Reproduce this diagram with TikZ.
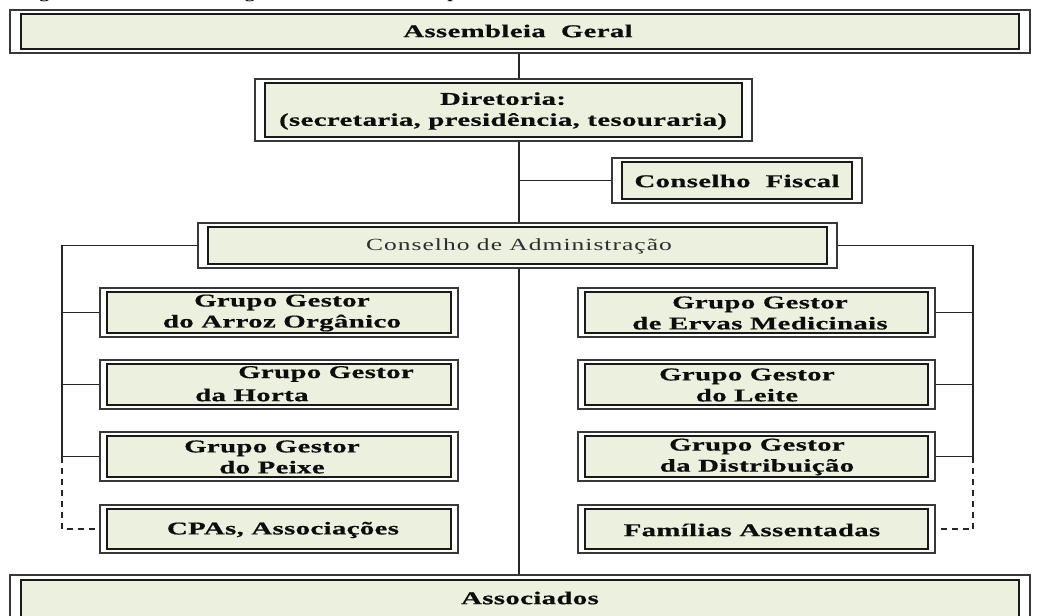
\documentclass[tikz,border=0pt]{standalone}
\usepackage{fontspec}
\setmainfont{Liberation Serif}
\newfontfamily\boxfont[FakeStretch=1.6,LetterSpace=2,FakeBold=0.6]{Liberation Serif}
\newfontfamily\admfont[FakeStretch=1.5,LetterSpace=6]{Liberation Serif}
\newfontfamily\titlefont[FakeStretch=1.35,LetterSpace=4]{Liberation Serif}

\definecolor{boxfill}{RGB}{236,241,223}

\tikzset{
  outerframe/.style={draw=black!78, line width=1.8pt, fill=white, inner sep=0pt, outer sep=0.9pt},
  innerframe/.style={draw=black!90, line width=2.6pt, fill=boxfill},
  lbl/.style={font=\boxfont\bfseries\fontsize{18}{21}\selectfont, align=center, inner sep=0pt, text=black!95},
  admlbl/.style={font=\admfont\fontsize{17}{20}\selectfont, inner sep=0pt, text=black!82},
  conn/.style={draw=black!85, line width=1.6pt},
  dashconn/.style={conn, dash pattern=on 6pt off 5pt},
}

% double-framed box: name, x1, y1, x2, y2, horizontal inset, vertical inset
\newcommand\orgbox[7]{%
  \node[outerframe, minimum width={(#4-#2)*1pt}, minimum height={(#5-#3)*1pt}]
    (#1) at ({(#2+#4)/2},{(#3+#5)/2}) {};
  \draw[innerframe] ([shift={(#6,#7)}]#1.north west) rectangle ([shift={(-#6,-#7)}]#1.south east);
}

\begin{document}
\begin{tikzpicture}[x=1pt,y=-1pt]
\useasboundingbox (0,0) rectangle (1037,616);
\fill[white] (0,0) rectangle (1037,616);
\clip (0,0) rectangle (1037,616);

% caption line, mostly cut off by the top edge
\node[font=\titlefont\bfseries\fontsize{15}{18}\selectfont, anchor=base west, inner sep=0pt] (caption) at (20,-2) {Figura 1 -- Estrutura Organizacional da Cootap};

% bus coordinates
\coordinate (sp) at (519,0);
\coordinate (lb) at (62,0);
\coordinate (rb) at (973,0);

% boxes
\orgbox{ag}{10}{10}{1030}{53}{12}{5}
\orgbox{dir}{255}{79}{752}{141}{11}{5}
\orgbox{cf}{612}{158}{862}{203}{11}{5}
\orgbox{adm}{198}{223}{837}{268}{11}{5}

\orgbox{ar}{100}{288}{458}{337}{8}{5}
\orgbox{ho}{100}{360}{458}{409}{8}{5}
\orgbox{pe}{100}{432}{458}{481}{8}{5}
\orgbox{cp}{100}{505}{458}{553}{8}{5}

\orgbox{er}{578}{288}{935}{337}{8}{5}
\orgbox{le}{578}{360}{935}{409}{8}{5}
\orgbox{di}{578}{432}{935}{481}{8}{5}
\orgbox{fa}{578}{505}{935}{553}{8}{5}

\orgbox{as}{10}{575}{1030}{622}{12}{6}

% texts
\node[lbl] (ag-t) at (518,31) {Assembleia\ \ Geral};
\node[lbl] (dir-t) at (503,111) {Diretoria:\\(secretaria, presidência, tesouraria)};
\node[lbl] (cf-t) at (737,181) {Conselho\ \ Fiscal};
\node[admlbl] (adm-t) at (519,246) {Conselho de Administração};

\node[lbl] (ar-t) at (282,313) {Grupo Gestor\\do Arroz Orgânico};
\node[lbl] (ho-t1) at (326,374) {Grupo Gestor};
\node[lbl, anchor=west] (ho-t2) at (195,395) {da Horta};
\node[lbl] (pe-t) at (272,457) {Grupo Gestor\\do Peixe};
\node[lbl] (cp-t) at (283,530) {CPAs, Associações};

\node[lbl] (er-t) at (760,313) {Grupo Gestor\\de Ervas Medicinais};
\node[lbl] (le-t) at (747,385) {Grupo Gestor\\do Leite};
\node[lbl] (di-t) at (757,457) {Grupo Gestor\\da Distribuição};
\node[lbl] (fa-t) at (752,530) {Famílias Assentadas};

\node[lbl] (as-t) at (530,598) {Associados};

% main spine
\draw[conn] (ag.south -| sp) -- (dir.north -| sp);
\draw[conn] (dir.south -| sp) -- (adm.north -| sp);
\draw[conn] (cf.west -| sp) -- (cf.west);
\draw[conn] (adm.south -| sp) -- (as.north -| sp);

% left bus
\draw[conn] (adm.west) -| (lb |- pe.west) -- (pe.west);
\draw[conn] (ar.west -| lb) -- (ar.west);
\draw[conn] (ho.west -| lb) -- (ho.west);
\draw[dashconn] (lb |- pe.west) |- (cp.west);

% right bus
\draw[conn] (adm.east) -| (rb |- di.east) -- (di.east);
\draw[conn] (er.east -| rb) -- (er.east);
\draw[conn] (le.east -| rb) -- (le.east);
\draw[dashconn] (rb |- di.east) |- (fa.east);
\end{tikzpicture}
\end{document}
